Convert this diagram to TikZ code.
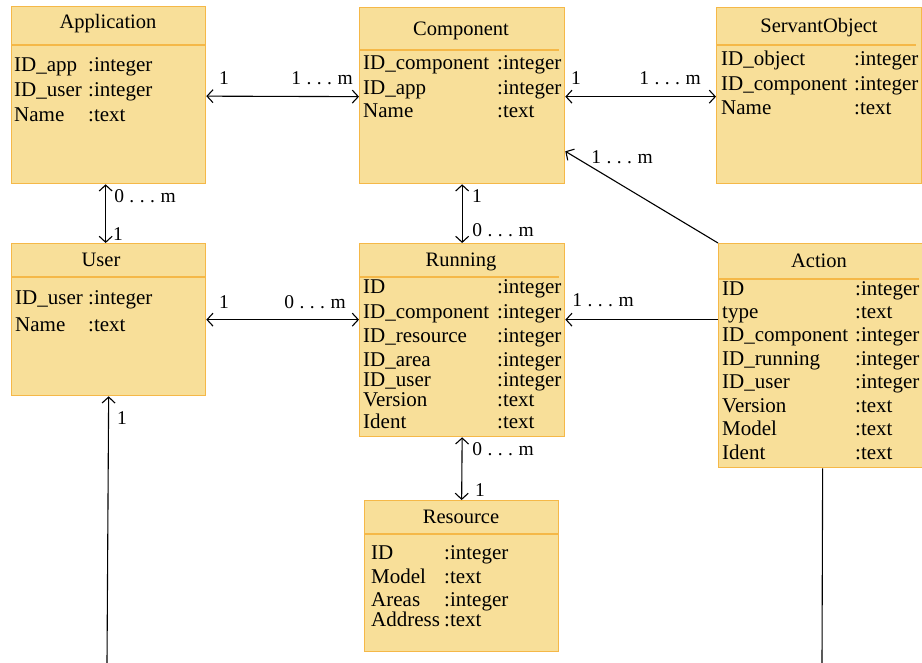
\documentclass[tikz,border=0pt]{standalone}
\usepackage{fontspec}
\setmainfont{Liberation Serif}
\usetikzlibrary{arrows.meta,calc}
\definecolor{boxfill}{RGB}{248,223,153}
\definecolor{boxline}{RGB}{245,184,72}
% multiplicity range such as 1 . . . m
\newcommand\mrange[2]{#1\hspace{.28em}.\hspace{.28em}.\hspace{.28em}.\hspace{.28em}#2}

\begin{document}
\begin{tikzpicture}[x=1pt,y=-1pt,
  entity/.style={draw=boxline, fill=boxfill, line width=1.3pt, rectangle,
    anchor=north west, inner sep=0, minimum width=#1},
  sep/.style={draw=boxline, line width=1.3pt},
  title/.style={font=\fontsize{20.5}{24}\selectfont, anchor=mid, inner sep=0, yshift=-4pt},
  attr/.style={font=\fontsize{21}{24}\selectfont, anchor=mid west, inner sep=0, yshift=-4pt},
  card/.style={font=\fontsize{19.5}{22}\selectfont, anchor=mid, inner sep=0, yshift=-4pt},
  tip/.tip={Straight Barb[length=6pt,width=13pt]},
  link/.style={line width=1.1pt, tip-tip},
  onelink/.style={line width=1.1pt, -tip},
  plain/.style={line width=1.1pt}
]
\useasboundingbox (0,0) rectangle (922,663);

% ---------- entity boxes ----------
\node[entity=194pt, minimum height=177pt] (app) at (11,6) {};
\node[entity=205pt, minimum height=176pt] (cmp) at (359,7) {};
\node[entity=205pt, minimum height=176pt] (srv) at (716,7) {};
\node[entity=194pt, minimum height=152pt] (usr) at (11,243) {};
\node[entity=205pt, minimum height=193pt] (run) at (359,243) {};
\node[entity=206pt, minimum height=224pt] (act) at (718,243) {};
\node[entity=194pt, minimum height=151pt] (res) at (364,500) {};

% header separators
\draw[sep] ($(app.north west)+(0,39)$) -- ($(app.north east)+(0,39)$);
\draw[sep] ($(cmp.north west)+(0,43)$) -- ($(cmp.north east)+(-6,43)$);
\draw[sep] ($(srv.north west)+(0,38)$) -- ($(srv.north east)+(-6,38)$);
\draw[sep] ($(usr.north west)+(0,34)$) -- ($(usr.north east)+(0,34)$);
\draw[sep] ($(run.north west)+(0,34)$) -- ($(run.north east)+(-6,34)$);
\draw[sep] ($(act.north west)+(0,36)$) -- ($(act.north east)+(-6,36)$);
\draw[sep] ($(res.north west)+(0,34)$) -- ($(res.north east)+(0,34)$);

% ---------- titles ----------
\node[title] (appT) at (108,22) {Application};
\node[title] (cmpT) at (461,29) {Component};
\node[title] (srvT) at (819,26) {ServantObject};
\node[title] (usrT) at (101,260) {User};
\node[title] (runT) at (461,260) {Running};
\node[title] (actT) at (819,261) {Action};
\node[title] (resT) at (461,517) {Resource};

% ---------- attributes ----------
% Application
\node[attr] (a1) at (14,65) {ID\_app};       \node[attr] (a1t) at (88,65) {:integer};
\node[attr] (a2) at (14,90) {ID\_user};      \node[attr] (a2t) at (88,90) {:integer};
\node[attr] (a3) at (14,115) {Name};         \node[attr] (a3t) at (88,115) {:text};
% Component
\node[attr] (c1) at (363,63) {ID\_component}; \node[attr] (c1t) at (497,63) {:integer};
\node[attr] (c2) at (363,88) {ID\_app};       \node[attr] (c2t) at (497,88) {:integer};
\node[attr] (c3) at (363,111) {Name};         \node[attr] (c3t) at (497,111) {:text};
% ServantObject
\node[attr] (s1) at (721,59) {ID\_object};    \node[attr] (s1t) at (854,59) {:integer};
\node[attr] (s2) at (721,84) {ID\_component}; \node[attr] (s2t) at (854,84) {:integer};
\node[attr] (s3) at (721,108) {Name};         \node[attr] (s3t) at (854,108) {:text};
% User
\node[attr] (u1) at (15,298) {ID\_user};      \node[attr] (u1t) at (88,298) {:integer};
\node[attr] (u2) at (15,325) {Name};          \node[attr] (u2t) at (88,325) {:text};
% Running
\node[attr] (r1) at (363,287) {ID};            \node[attr] (r1t) at (497,287) {:integer};
\node[attr] (r2) at (363,312) {ID\_component}; \node[attr] (r2t) at (497,312) {:integer};
\node[attr] (r3) at (363,336) {ID\_resource};  \node[attr] (r3t) at (497,336) {:integer};
\node[attr] (r4) at (363,360) {ID\_area};      \node[attr] (r4t) at (497,360) {:integer};
\node[attr] (r5) at (363,380) {ID\_user};      \node[attr] (r5t) at (497,380) {:integer};
\node[attr] (r6) at (363,400) {Version};       \node[attr] (r6t) at (497,400) {:text};
\node[attr] (r7) at (363,422) {Ident};         \node[attr] (r7t) at (497,422) {:text};
% Action
\node[attr] (x1) at (722,289) {ID};            \node[attr] (x1t) at (855,289) {:integer};
\node[attr] (x2) at (722,312) {type};          \node[attr] (x2t) at (855,312) {:text};
\node[attr] (x3) at (722,335) {ID\_component}; \node[attr] (x3t) at (855,335) {:integer};
\node[attr] (x4) at (722,359) {ID\_running};   \node[attr] (x4t) at (855,359) {:integer};
\node[attr] (x5) at (722,382) {ID\_user};      \node[attr] (x5t) at (855,382) {:integer};
\node[attr] (x6) at (722,406) {Version};       \node[attr] (x6t) at (855,406) {:text};
\node[attr] (x7) at (722,429) {Model};         \node[attr] (x7t) at (855,429) {:text};
\node[attr] (x8) at (722,453) {Ident};         \node[attr] (x8t) at (855,453) {:text};
% Resource
\node[attr] (e1) at (371,553) {ID};            \node[attr] (e1t) at (444,553) {:integer};
\node[attr] (e2) at (371,577) {Model};         \node[attr] (e2t) at (444,577) {:text};
\node[attr] (e3) at (371,600) {Areas};         \node[attr] (e3t) at (444,600) {:integer};
\node[attr] (e4) at (371,620) {Address};       \node[attr] (e4t) at (444,620) {:text};

% ---------- connectors ----------
\coordinate (usrFoot) at (107,663);
\coordinate (actFoot) at (822,663);
\coordinate (cmpHit) at ($(cmp.south east)+(0,-33)$);

\draw[link] ($(app.east)+(0,1)$) -- ($(cmp.west)+(0,1)$);
\draw[link] ($(cmp.east)+(0,1)$) -- ($(srv.west)+(0,1)$);
\draw[link] ($(app.south)+(-3,0)$) -- ($(usr.north)+(-3,0)$);
\draw[link] (cmp.south) -- (run.north);
\draw[link] (usr.east) -- (run.west |- usr.east);
\draw[onelink] (act.west |- usr.east) -- (run.east |- usr.east);
\draw[onelink] (act.north west) -- (cmpHit);
\draw[link] (run.south) -- (res.north);
\draw[onelink] (usrFoot) -- (usr.south);
\draw[plain] ($(act.south)+(1,0)$) -- (actFoot);

% ---------- multiplicities ----------
\node[card] (m1) at (224,78) {1};
\node[card] (m2) at (322,78) {\mrange{1}{m}};
\node[card] (m3) at (576,78) {1};
\node[card] (m4) at (670,78) {\mrange{1}{m}};
\node[card] (m5) at (145,196) {\mrange{0}{m}};
\node[card] (m6) at (118,234) {1};
\node[card] (m7) at (477,196) {1};
\node[card] (m8) at (503,230) {\mrange{0}{m}};
\node[card] (m9) at (224,302) {1};
\node[card] (m10) at (315,302) {\mrange{0}{m}};
\node[card] (m11) at (603,300) {\mrange{1}{m}};
\node[card] (m12) at (622,157) {\mrange{1}{m}};
\node[card] (m13) at (503,449) {\mrange{0}{m}};
\node[card] (m14) at (480,490) {1};
\node[card] (m15) at (122,418) {1};
\end{tikzpicture}
\end{document}
